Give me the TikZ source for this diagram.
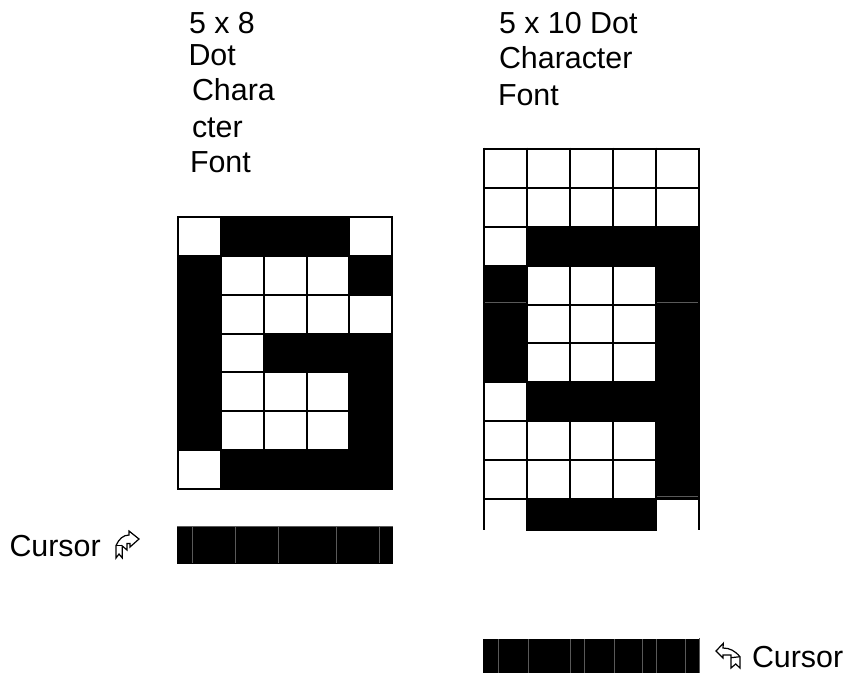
\documentclass[tikz,border=0pt]{standalone}
\usepackage{fontspec}
\setmainfont{Liberation Sans}
\begin{document}
\begin{tikzpicture}[x=1pt,y=-1pt,
  lbl/.style={anchor=base west,inner sep=0pt,outer sep=0pt,font=\fontsize{30.4}{30.4}\selectfont,text=black},
  griden/.style={line width=2pt,black},
  seam/.style={line width=0.7pt,black!65},
  arrowglyph/.style={line width=1.2pt,black,line join=miter,fill=white}]
\useasboundingbox (0,0) rectangle (846,673);
% left grid
\def\xa{178}\def\xb{220.5}\def\xc{264}\def\xd{307}\def\xe{349}\def\xf{392}
\foreach \y in {217,256,295,333.5,372,411,450,489}
  \draw[griden] (\xa-1,\y) -- (\xf+1,\y);
\foreach \x in {\xa,\xb,\xc,\xd,\xe,\xf}
  \draw[griden] (\x,216) -- (\x,490);
\foreach \x/\y/\X/\Y in {
  220.5/217/349/256, 178/256/220.5/450, 349/256/392/295,
  264/333.5/392/372, 349/372/392/489, 220.5/450/392/489}
  \fill[black] (\x-0.5,\y-1) rectangle (\X+1,\Y+1);
% right grid
\def\rys{148.5,188,226.5,266,304.5,343,382,421,460,499}
\foreach \y in \rys
  \draw[griden] (483,\y) -- (700,\y);
\foreach \x in {484,527,570,613,656,699}
  \draw[griden] (\x,147.5) -- (\x,530);
\foreach \x/\y/\X/\Y in {
  527/226.5/699/266, 484/266/527/382, 656/266/699/499,
  527/382/699/421, 527/499/656/530}
  \fill[black] (\x-1,\y-1) rectangle (\X+1,\Y+1);
\draw[seam] (485,302) -- (526,302);
\draw[seam] (657,302) -- (698,302);
\draw[seam] (657,496) -- (698,496);
% left cursor
\fill[black] (177,526) rectangle (393,564);
\draw[seam] (177,526.3) -- (393,526.3);
\foreach \x in {192,235.5,278.5,336.5,379.5}
  \draw[seam] (\x,527) -- (\x,563);
% right cursor
\fill[black] (483,639) rectangle (699,673);
\foreach \x in {498.5,528,570.5,584.5,614,642.5,656,685}
  \draw[seam] (\x,639) -- (\x,673);
\draw[seam] (699.5,638) -- (699.5,673);
% labels
\node[lbl] (t1) at (189,33) {5 x 8};
\node[lbl] (t2) at (188.5,65) {Dot};
\node[lbl] (t3) at (192,100.5) {Chara};
\node[lbl] (t4) at (192,137) {cter};
\node[lbl] (t5) at (190,172) {Font};
\node[lbl] (t6) at (499,33) {5 x 10 Dot};
\node[lbl] (t7) at (499,68) {Character};
\node[lbl] (t8) at (498,105) {Font};
\node[lbl] (t9) at (9.5,556) {Cursor};
\node[lbl] (t10) at (752,667) {Cursor};
% glyph arrows
\draw[arrowglyph] (129,531) -- (139,539) -- (130,547) -- (130,543.5) -- (127,543.5) -- (127,550) -- (122.3,546) -- (122.3,558) -- (119,554) -- (116,558) -- (116,545.5) .. controls (119,539) and (123,535) .. (129,535) -- cycle;
\draw[arrowglyph] (116,545.5) -- (122.3,545.5);
\draw[arrowglyph] (723.3,643.3) -- (716,651) -- (723,658) -- (723,655) -- (731,655) -- (731,668) -- (735.7,664) -- (740,668) -- (740,656.7) .. controls (735,651) and (730,648) .. (723,648) -- cycle;
\draw[arrowglyph] (731,657.7) -- (740,656.7);
\end{tikzpicture}
\end{document}
